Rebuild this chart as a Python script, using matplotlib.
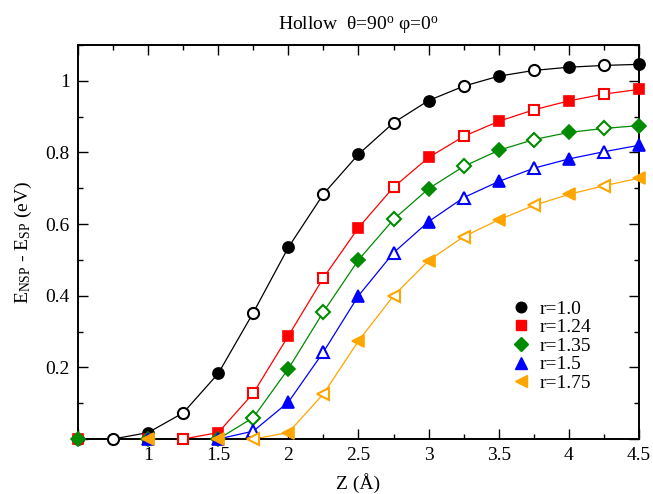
import matplotlib
matplotlib.use("Agg")
import matplotlib.pyplot as plt
import numpy as np
from matplotlib.ticker import FixedLocator, MultipleLocator, NullFormatter

plt.rcParams['font.family'] = ['Liberation Serif', 'DejaVu Serif']
plt.rcParams['mathtext.fontset'] = 'custom'
plt.rcParams['mathtext.rm'] = 'Liberation Serif'
plt.rcParams['mathtext.it'] = 'Liberation Serif:italic'

# Energy difference vs. height Z for several radii
z_r100 = [0.5, 0.75, 1.0, 1.25, 1.5, 1.75, 2.0, 2.25, 2.5, 2.75, 3.0, 3.25, 3.5, 3.75, 4.0, 4.25, 4.5]
e_r100 = [0.0, 0.0, 0.018, 0.073, 0.183, 0.353, 0.535, 0.684, 0.795, 0.883, 0.945, 0.985, 1.013, 1.029, 1.038, 1.043, 1.046]

z_r124 = [0.5, 1.0, 1.25, 1.5, 1.75, 2.0, 2.25, 2.5, 2.75, 3.0, 3.25, 3.5, 3.75, 4.0, 4.25, 4.5]
e_r124 = [0.0, 0.0, 0.0, 0.018, 0.128, 0.288, 0.450, 0.590, 0.703, 0.786, 0.845, 0.887, 0.919, 0.944, 0.963, 0.976]

z_r135 = [0.5, 1.0, 1.5, 1.75, 2.0, 2.25, 2.5, 2.75, 3.0, 3.25, 3.5, 3.75, 4.0, 4.25, 4.5]
e_r135 = [0.0, 0.0, 0.0, 0.060, 0.196, 0.355, 0.500, 0.613, 0.699, 0.761, 0.806, 0.836, 0.856, 0.867, 0.875]

z_r150 = [1.0, 1.5, 1.75, 2.0, 2.25, 2.5, 2.75, 3.0, 3.25, 3.5, 3.75, 4.0, 4.25, 4.5]
e_r150 = [0.0, 0.0, 0.022, 0.103, 0.243, 0.400, 0.520, 0.607, 0.674, 0.719, 0.756, 0.782, 0.802, 0.820]

z_r175 = [1.0, 1.5, 1.75, 2.0, 2.25, 2.5, 2.75, 3.0, 3.25, 3.5, 3.75, 4.0, 4.25, 4.5]
e_r175 = [0.0, 0.0, 0.0, 0.018, 0.126, 0.274, 0.400, 0.498, 0.565, 0.612, 0.652, 0.683, 0.707, 0.728]

labels = ['r=1.0', 'r=1.24', 'r=1.35', 'r=1.5', 'r=1.75']
colors = ['black', '#ff0000', '#008b00', '#0000ff', '#ffa500']
markers = ['o', 's', 'D', '^', '<']
msizes = [8.0, 7.0, 7.0, 8.5, 8.5]
series = [(z_r100, e_r100), (z_r124, e_r124), (z_r135, e_r135), (z_r150, e_r150), (z_r175, e_r175)]

x_ticks = [0.5, 1.0, 1.5, 2.0, 2.5, 3.0, 3.5, 4.0, 4.5]
x_tick_labels = ['', '1', '1.5', '2', '2.5', '3', '3.5', '4', '4.5']
y_ticks = [0.0, 0.2, 0.4, 0.6, 0.8, 1.0]
y_tick_labels = ['', '0.2', '0.4', '0.6', '0.8', '1']

fig = plt.figure(figsize=(6.53, 4.94), dpi=100)
ax = fig.add_axes([0.1195, 0.1113, 0.8590, 0.7976])

handles = []
for (z, e), lab, col, mk, ms in zip(series, labels, colors, markers, msizes):
    z = np.asarray(z)
    e = np.asarray(e)
    ax.plot(z, e, '-', color=col, lw=0.9, zorder=2)
    # filled markers on half-integer grid, open markers on quarter points
    full = np.isclose((z * 2) % 1, 0)
    ax.plot(z[full], e[full], ls='none', marker=mk, ms=ms, mfc=col, mec=col,
            mew=1.2, zorder=3, clip_on=False)
    ax.plot(z[~full], e[~full], ls='none', marker=mk, ms=ms, mfc='white', mec=col,
            mew=1.5, zorder=3, clip_on=False)
    h, = ax.plot([], [], ls='none', marker=mk, ms=ms * 0.95, mfc=col, mec=col, label=lab)
    handles.append(h)

ax.set_xlim(0.5, 4.5)
ax.set_ylim(0.0, 1.1)

ax.xaxis.set_major_locator(FixedLocator(x_ticks))
ax.set_xticklabels(x_tick_labels)
ax.xaxis.set_minor_locator(MultipleLocator(0.25))
ax.yaxis.set_major_locator(FixedLocator(y_ticks))
ax.set_yticklabels(y_tick_labels)
ax.yaxis.set_minor_locator(MultipleLocator(0.1))
ax.xaxis.set_minor_formatter(NullFormatter())
ax.yaxis.set_minor_formatter(NullFormatter())

ax.tick_params(which='both', direction='in', top=True, right=True, labelsize=14,
               width=1.0, colors='black')
ax.tick_params(which='major', length=7, pad=6)
ax.tick_params(which='minor', length=3.5)
for sp in ax.spines.values():
    sp.set_linewidth(1.4)

ax.set_xlabel('Z (Å)', fontsize=14, labelpad=6)
ax.set_ylabel(r'E$_{\mathrm{NSP}}$ - E$_{\mathrm{SP}}$ (eV)', fontsize=14, labelpad=8)
ax.set_title(r'Hollow  θ=90$^{\mathrm{o}}$ φ=0$^{\mathrm{o}}$', fontsize=14, pad=11)

ax.legend(handles=handles, loc='lower left', bbox_to_anchor=(0.7475, 0.085),
          frameon=False, fontsize=14, handlelength=1.0, handletextpad=0.5,
          labelspacing=0.05, borderpad=0.2)

fig.savefig('out.png', dpi=100)
